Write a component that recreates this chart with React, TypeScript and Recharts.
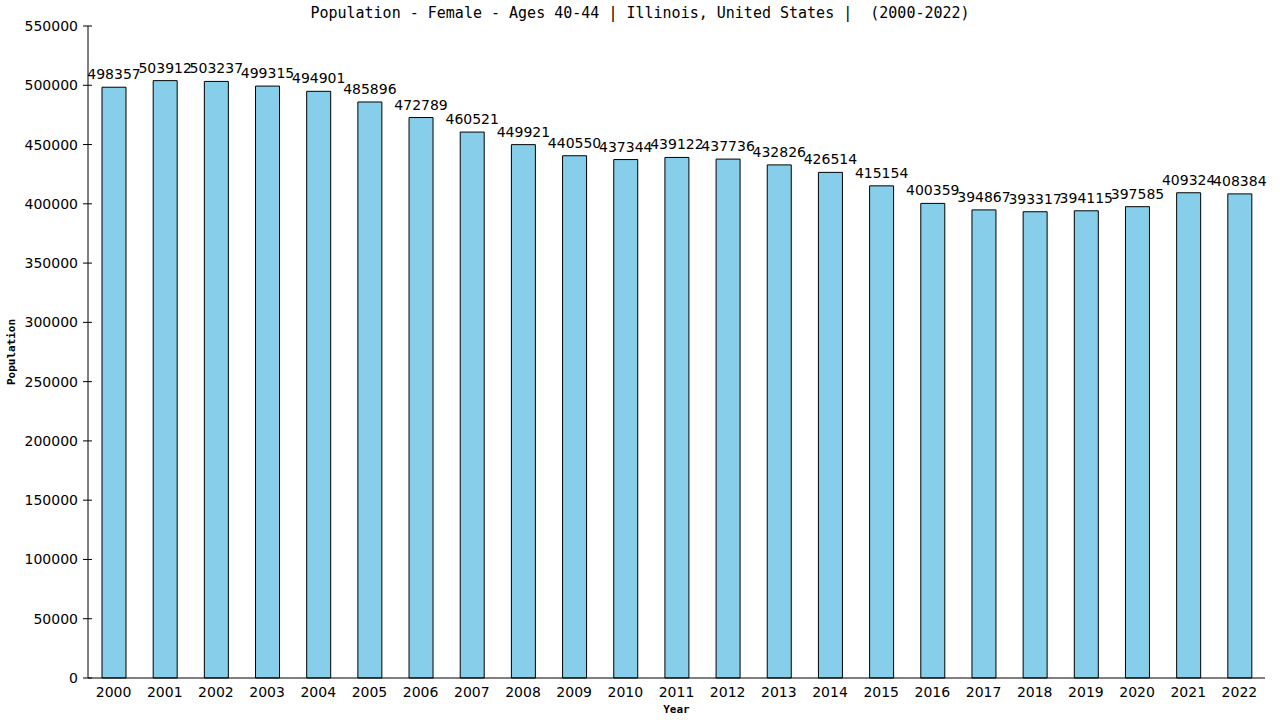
import { BarChart, Bar, XAxis, YAxis, LabelList, Label } from "recharts";

const years = [
  "2000", "2001", "2002", "2003", "2004", "2005", "2006", "2007", "2008", "2009", "2010", "2011",
  "2012", "2013", "2014", "2015", "2016", "2017", "2018", "2019", "2020", "2021", "2022"
];

const population = [
  498357, 503912, 503237, 499315, 494901, 485896, 472789, 460521, 449921, 440550, 437344, 439122,
  437736, 432826, 426514, 415154, 400359, 394867, 393317, 394115, 397585, 409324, 408384
];

const yTicks = [0, 50000, 100000, 150000, 200000, 250000, 300000, 350000, 400000, 450000, 500000, 550000];

const data = years.map((year, i) => ({ year, population: population[i] }));

const sans = "'DejaVu Sans', Verdana, sans-serif";
const mono = "'DejaVu Sans Mono', monospace";

// y tick: a short mark crossing the axis plus the number on its left
const YTick = (props: any) => {
  const { x, y, payload } = props;
  return (
    <g>
      <line x1={x - 5} x2={x + 4} y1={y} y2={y} stroke="#000" />
      <text x={x - 10} y={y} dy={5} textAnchor="end" fontSize={14} fontFamily={sans} fill="#000">
        {payload.value}
      </text>
    </g>
  );
};

export default function App() {
  return (
    <div style={{ position: "absolute", left: 0, top: 0, width: 1280, height: 720, background: "#fff" }}>
      <div
        style={{
          position: "absolute",
          left: 0,
          top: 4,
          width: 1280,
          textAlign: "center",
          fontFamily: mono,
          fontSize: 15,
          lineHeight: "18px",
          whiteSpace: "pre",
          color: "#000"
        }}
      >
        {"Population - Female - Ages 40-44 | Illinois, United States |  (2000-2022)"}
      </div>
      <BarChart
        width={1280}
        height={720}
        data={data}
        margin={{ top: 26, right: 15, left: 0, bottom: 0 }}
        barSize={24}
      >
        <XAxis
          dataKey="year"
          height={42}
          tickLine={false}
          axisLine={{ stroke: "#000" }}
          tickMargin={3}
          tick={{ fontSize: 14, fontFamily: sans, fill: "#000" }}
          interval={0}
        >
          <Label
            value="Year"
            position="insideBottom"
            offset={7}
            style={{ fontSize: 11, fontFamily: mono, fontWeight: "bold", fill: "#000" }}
          />
        </XAxis>
        <YAxis
          yAxisId="left"
          width={88}
          domain={[0, 550000]}
          ticks={yTicks}
          interval={0}
          tickLine={false}
          tickSize={0}
          tickMargin={0}
          axisLine={{ stroke: "#000" }}
          tick={<YTick />}
        >
          <Label
            value="Population"
            angle={-90}
            position="insideLeft"
            offset={11}
            style={{ fontSize: 11, fontFamily: mono, fontWeight: "bold", fill: "#000", textAnchor: "middle" }}
          />
        </YAxis>
        <YAxis
          yAxisId="right"
          orientation="right"
          width={0}
          domain={[0, 550000]}
          tick={false}
          tickLine={false}
          axisLine={{ stroke: "#000" }}
        />
        <Bar
          yAxisId="left"
          dataKey="population"
          fill="#87CEEB"
          stroke="#000"
          strokeWidth={1}
          isAnimationActive={false}
        >
          <LabelList
            dataKey="population"
            position="top"
            offset={8}
            style={{ fontSize: 14, fontFamily: sans, fill: "#000" }}
          />
        </Bar>
      </BarChart>
    </div>
  );
}
